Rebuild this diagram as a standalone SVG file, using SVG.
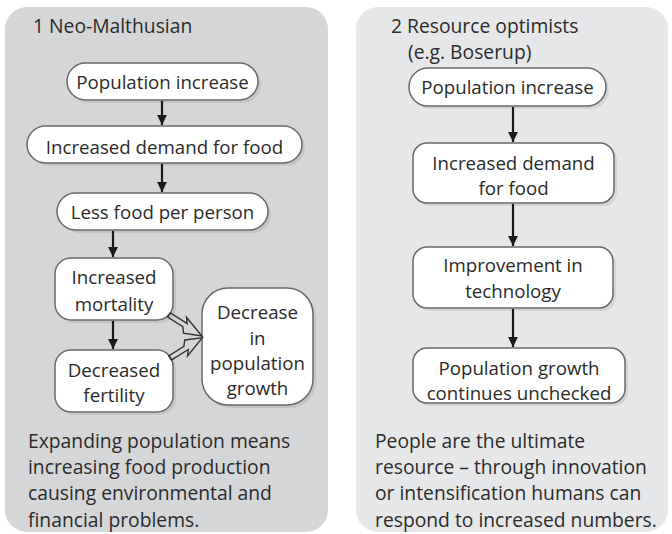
<svg xmlns="http://www.w3.org/2000/svg" width="672" height="534" viewBox="0 0 672 534">
<style>
text{font-family:"Open Sans","Noto Sans","Liberation Sans",sans-serif;fill:#2b2b2b}
.t{font-size:19.3px}
.n{font-size:18.7px;text-anchor:middle}
.box{fill:#fff;stroke:#6a6a6a;stroke-width:1.5}
.sh{fill:#000;opacity:0.08}
.ar{stroke:#1a1a1a;stroke-width:2.2;fill:none}
.zz{fill:none;stroke:#333;stroke-width:1.4;stroke-linejoin:miter}
</style>
<defs>
<marker id="ah" viewBox="0 0 10 10" refX="10" refY="5" markerWidth="4.5" markerHeight="5" orient="auto" markerUnits="strokeWidth">
<path d="M0,0 L10,5 L0,10 Z" fill="#1a1a1a"/>
</marker>
</defs>

<g id="panel1">
<rect x="5" y="7" width="323" height="525" rx="22" fill="#d5d6d7"/>
<text class="t" x="33" y="33">1 Neo-Malthusian</text>
<text class="t" x="28" y="448">Expanding population means</text>
<text class="t" x="28" y="474">increasing food production</text>
<text class="t" x="28" y="500">causing environmental and</text>
<text class="t" x="28" y="527">financial problems.</text>
</g>

<g id="panel2">
<rect x="356" y="7" width="312" height="525" rx="22" fill="#e6e7e8"/>
<text class="t" x="391" y="33">2 Resource optimists</text>
<text class="t" x="408" y="59">(e.g. Boserup)</text>
<text class="t" x="375" y="448">People are the ultimate</text>
<text class="t" x="375" y="474">resource – through innovation</text>
<text class="t" x="375" y="500">or intensification humans can</text>
<text class="t" x="375" y="527">respond to increased numbers.</text>
</g>

<g id="l1">
<rect class="sh" x="70" y="66" width="191" height="37" rx="18.5"/>
<rect class="box" x="67" y="63" width="191" height="37" rx="18.5"/>
<text class="n" x="162.5" y="88.5">Population increase</text>
</g>
<g id="l2">
<rect class="sh" x="30" y="129" width="275" height="37" rx="18.5"/>
<rect class="box" x="27" y="126" width="275" height="37" rx="18.5"/>
<text class="n" x="164.5" y="153.5">Increased demand for food</text>
</g>
<g id="l3">
<rect class="sh" x="60" y="196" width="211" height="37" rx="18.5"/>
<rect class="box" x="57" y="193" width="211" height="37" rx="18.5"/>
<text class="n" x="162.5" y="218.5">Less food per person</text>
</g>
<g id="l4">
<rect class="sh" x="58" y="261" width="118" height="62" rx="16"/>
<rect class="box" x="55" y="258" width="118" height="62" rx="16"/>
<text class="n" x="114" y="283.5">Increased</text>
<text class="n" x="114" y="310.5">mortality</text>
</g>
<g id="l5">
<rect class="sh" x="58" y="353" width="118" height="62" rx="16"/>
<rect class="box" x="55" y="350" width="118" height="62" rx="16"/>
<text class="n" x="114" y="376.5">Decreased</text>
<text class="n" x="114" y="401.5">fertility</text>
</g>
<g id="l6">
<rect class="sh" x="205" y="291" width="111" height="117" rx="26"/>
<rect class="box" x="202" y="288" width="111" height="117" rx="26"/>
<text class="n" x="257.5" y="318.5">Decrease</text>
<text class="n" x="257.5" y="344.5">in</text>
<text class="n" x="257.5" y="369.5">population</text>
<text class="n" x="257.5" y="394.5">growth</text>
</g>

<g id="r1">
<rect class="sh" x="412" y="71" width="197" height="38" rx="19"/>
<rect class="box" x="409" y="68" width="197" height="38" rx="19"/>
<text class="n" x="507.5" y="93.5">Population increase</text>
</g>
<g id="r2">
<rect class="sh" x="416" y="146" width="201" height="60" rx="14"/>
<rect class="box" x="413" y="143" width="201" height="60" rx="14"/>
<text class="n" x="513.5" y="169.5">Increased demand</text>
<text class="n" x="513.5" y="194.5">for food</text>
</g>
<g id="r3">
<rect class="sh" x="416" y="250" width="200" height="61" rx="14"/>
<rect class="box" x="413" y="247" width="200" height="61" rx="14"/>
<text class="n" x="513" y="271.5">Improvement in</text>
<text class="n" x="513" y="297.5">technology</text>
</g>
<g id="r4">
<rect class="sh" x="416" y="351" width="212" height="55" rx="14"/>
<rect class="box" x="413" y="348" width="212" height="55" rx="14"/>
<text class="n" x="519" y="374.5">Population growth</text>
<text class="n" x="519" y="399.5">continues unchecked</text>
</g>

<g id="connectors">
<line class="ar" x1="162" y1="101" x2="162" y2="125" marker-end="url(#ah)"/>
<line class="ar" x1="162" y1="164" x2="162" y2="192" marker-end="url(#ah)"/>
<line class="ar" x1="113" y1="231" x2="113" y2="257" marker-end="url(#ah)"/>
<line class="ar" x1="113" y1="321" x2="113" y2="349" marker-end="url(#ah)"/>
<line class="ar" x1="513" y1="107" x2="513" y2="142" marker-end="url(#ah)"/>
<line class="ar" x1="513" y1="204" x2="513" y2="246" marker-end="url(#ah)"/>
<line class="ar" x1="513" y1="309" x2="513" y2="347" marker-end="url(#ah)"/>
<polygon class="zz" transform="translate(169,315) rotate(32.5)" points="0,-2.5 20,-2.5 16,-7.5 39,0 22,7.5 18,2.5 0,2.5"/>
<polygon class="zz" transform="translate(170,358) rotate(-32)" points="0,2.5 20,2.5 16,7.5 38,0 22,-7.5 18,-2.5 0,-2.5"/>
</g>
</svg>
